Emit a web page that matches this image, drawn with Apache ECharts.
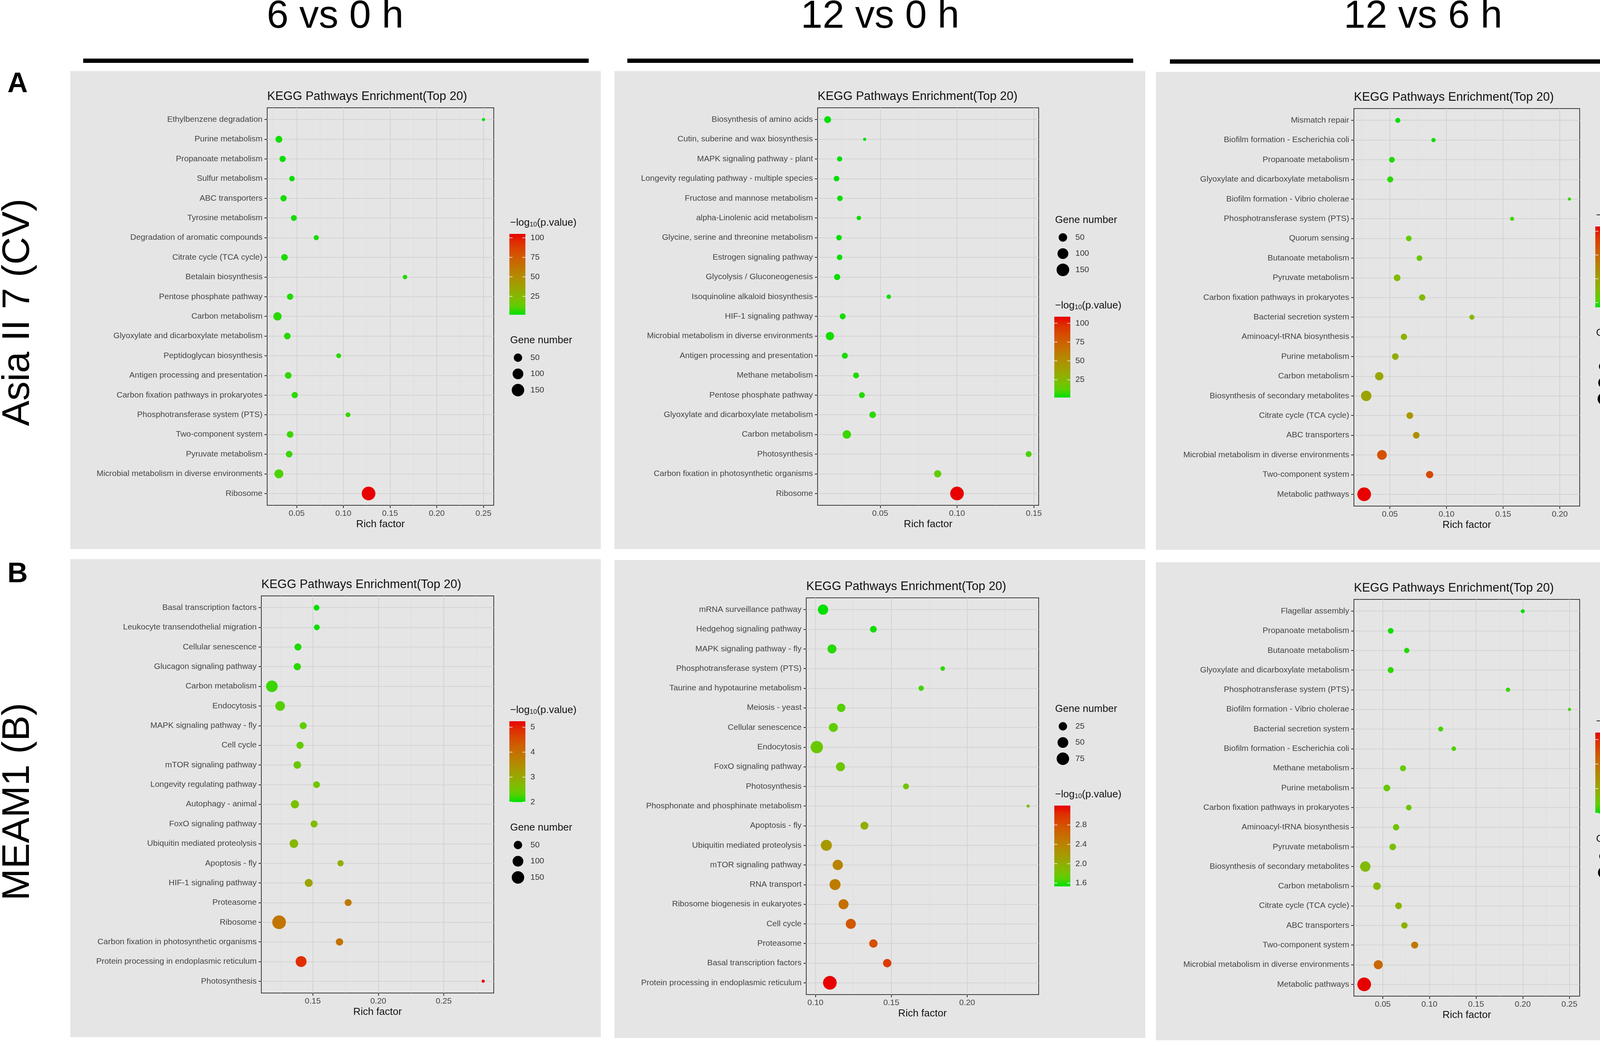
<!DOCTYPE html>
<html>
<head>
<meta charset="utf-8">
<script src="https://cdn.jsdelivr.net/npm/echarts@6/dist/echarts.min.js"></script>
<style>
html, body { margin: 0; padding: 0; background: #fff; }
#chart { width: 4328px; height: 2671px; }
</style>
</head>
<body>
<div id="chart"></div>
<script>
// ---- Asia II 7 (CV), 6 vs 0 h ----
const catsA1 = ['Ethylbenzene degradation', 'Purine metabolism', 'Propanoate metabolism', 'Sulfur metabolism',
  'ABC transporters', 'Tyrosine metabolism', 'Degradation of aromatic compounds', 'Citrate cycle (TCA cycle)',
  'Betalain biosynthesis', 'Pentose phosphate pathway', 'Carbon metabolism', 'Glyoxylate and dicarboxylate metabolism',
  'Peptidoglycan biosynthesis', 'Antigen processing and presentation', 'Carbon fixation pathways in prokaryotes',
  'Phosphotransferase system (PTS)', 'Two-component system', 'Pyruvate metabolism',
  'Microbial metabolism in diverse environments', 'Ribosome'];
const richA1 = [0.250, 0.031, 0.035, 0.045, 0.036, 0.047, 0.071, 0.037, 0.166, 0.043, 0.0295, 0.040, 0.095, 0.041, 0.048, 0.105, 0.043, 0.042, 0.031, 0.127];
const genesA1 = [4, 28, 21, 14, 21, 17, 11, 25, 7, 21, 49, 25, 9, 25, 21, 9, 25, 25, 61, 190];
const pvalA1 = [1.5, 3, 3, 3.2, 4, 4, 4.2, 5, 5, 5.2, 6, 6, 6.2, 7, 7, 7.2, 8, 8, 10, 105];
const xTicksA1 = [0.05, 0.10, 0.15, 0.20, 0.25];
const colorTicksA1 = ['25', '50', '75', '100'];
const sizeTicksA1 = [50, 100, 150];

// ---- Asia II 7 (CV), 12 vs 0 h ----
const catsA2 = ['Biosynthesis of amino acids', 'Cutin, suberine and wax biosynthesis', 'MAPK signaling pathway - plant',
  'Longevity regulating pathway - multiple species', 'Fructose and mannose metabolism', 'alpha-Linolenic acid metabolism',
  'Glycine, serine and threonine metabolism', 'Estrogen signaling pathway', 'Glycolysis / Gluconeogenesis',
  'Isoquinoline alkaloid biosynthesis', 'HIF-1 signaling pathway', 'Microbial metabolism in diverse environments',
  'Antigen processing and presentation', 'Methane metabolism', 'Pentose phosphate pathway',
  'Glyoxylate and dicarboxylate metabolism', 'Carbon metabolism', 'Photosynthesis',
  'Carbon fixation in photosynthetic organisms', 'Ribosome'];
const richA2 = [0.0158, 0.0399, 0.0236, 0.0216, 0.0238, 0.0361, 0.0232, 0.0236, 0.0220, 0.0556, 0.0256, 0.0173, 0.0270, 0.0343, 0.0381, 0.0451, 0.0283, 0.1466, 0.0874, 0.100];
const genesA2 = [28, 4, 11, 14, 14, 7, 14, 14, 20, 7, 17, 48, 17, 17, 17, 24, 50, 17, 32, 185];
const pvalA2 = [1.4, 1.6, 1.8, 2, 2.2, 2.4, 2.6, 2.8, 3, 3.3, 3.6, 4, 4.4, 5, 5.5, 6.5, 8, 10, 14, 108.7];
const xTicksA2 = [0.05, 0.10, 0.15];
const colorTicksA2 = ['25', '50', '75', '100'];
const sizeTicksA2 = [50, 100, 150];

// ---- Asia II 7 (CV), 12 vs 6 h ----
const catsA3 = ['Mismatch repair', 'Biofilm formation - Escherichia coli', 'Propanoate metabolism',
  'Glyoxylate and dicarboxylate metabolism', 'Biofilm formation - Vibrio cholerae', 'Phosphotransferase system (PTS)',
  'Quorum sensing', 'Butanoate metabolism', 'Pyruvate metabolism', 'Carbon fixation pathways in prokaryotes',
  'Bacterial secretion system', 'Aminoacyl-tRNA biosynthesis', 'Purine metabolism', 'Carbon metabolism',
  'Biosynthesis of secondary metabolites', 'Citrate cycle (TCA cycle)', 'ABC transporters',
  'Microbial metabolism in diverse environments', 'Two-component system', 'Metabolic pathways'];
const richA3 = [0.057, 0.0885, 0.0518, 0.0503, 0.2085, 0.1579, 0.0667, 0.0761, 0.0564, 0.0785, 0.1224, 0.0624, 0.0548, 0.0406, 0.0291, 0.0676, 0.0733, 0.043, 0.0851, 0.0273];
const genesA3 = [11, 6, 18, 22, 3, 5, 18, 18, 31, 26, 11, 26, 31, 63, 118, 31, 31, 97, 42, 245];
const pvalA3 = [3.2, 3.4, 3.6, 3.8, 4.0, 4.2, 4.8, 5.2, 6.0, 6.2, 6.3, 6.8, 7.0, 7.6, 7.8, 8.8, 9.3, 13.5, 14.0, 16.8];
const xTicksA3 = [0.05, 0.10, 0.15, 0.20];
const colorTicksA3 = ['4', '8', '12', '16'];
const sizeTicksA3 = [50, 100, 150, 200];

// ---- MEAM1 (B), 6 vs 0 h ----
const catsB1 = ['Basal transcription factors', 'Leukocyte transendothelial migration', 'Cellular senescence',
  'Glucagon signaling pathway', 'Carbon metabolism', 'Endocytosis', 'MAPK signaling pathway - fly', 'Cell cycle',
  'mTOR signaling pathway', 'Longevity regulating pathway', 'Autophagy - animal', 'FoxO signaling pathway',
  'Ubiquitin mediated proteolysis', 'Apoptosis - fly', 'HIF-1 signaling pathway', 'Proteasome', 'Ribosome',
  'Carbon fixation in photosynthetic organisms', 'Protein processing in endoplasmic reticulum', 'Photosynthesis'];
const richB1 = [0.1529, 0.1531, 0.1387, 0.1382, 0.1188, 0.1251, 0.1427, 0.1403, 0.1382, 0.1529, 0.1364, 0.1510, 0.1356, 0.1712, 0.1469, 0.1770, 0.1243, 0.1704, 0.1411, 0.2801];
const genesB1 = [16, 16, 30, 33, 125, 75, 30, 33, 38, 26, 48, 30, 55, 20, 44, 29, 190, 34, 105, 4];
const pvalB1 = [2.0, 2.05, 2.1, 2.15, 2.2, 2.3, 2.35, 2.4, 2.45, 2.5, 2.6, 2.65, 2.75, 2.9, 3.1, 3.85, 3.9, 3.95, 4.9, 5.24];
const xTicksB1 = [0.15, 0.20, 0.25];
const colorTicksB1 = ['2', '3', '4', '5'];
const sizeTicksB1 = [50, 100, 150];

// ---- MEAM1 (B), 12 vs 0 h ----
const catsB2 = ['mRNA surveillance pathway', 'Hedgehog signaling pathway', 'MAPK signaling pathway - fly',
  'Phosphotransferase system (PTS)', 'Taurine and hypotaurine metabolism', 'Meiosis - yeast', 'Cellular senescence',
  'Endocytosis', 'FoxO signaling pathway', 'Photosynthesis', 'Phosphonate and phosphinate metabolism',
  'Apoptosis - fly', 'Ubiquitin mediated proteolysis', 'mTOR signaling pathway', 'RNA transport',
  'Ribosome biogenesis in eukaryotes', 'Cell cycle', 'Proteasome', 'Basal transcription factors',
  'Protein processing in endoplasmic reticulum'];
const richB2 = [0.105, 0.1382, 0.1109, 0.1839, 0.1697, 0.117, 0.1118, 0.1009, 0.1165, 0.1597, 0.2402, 0.1323, 0.1072, 0.1147, 0.1129, 0.1185, 0.1233, 0.1382, 0.1473, 0.1095];
const genesB2 = [45, 13, 31, 4, 6, 25, 31, 73, 31, 9, 2, 22, 54, 45, 54, 42, 42, 25, 25, 95];
const pvalB2 = [1.53, 1.56, 1.6, 1.62, 1.65, 1.68, 1.72, 1.76, 1.78, 1.8, 1.85, 2.0, 2.2, 2.4, 2.45, 2.55, 2.75, 2.8, 2.95, 3.2];
const xTicksB2 = [0.10, 0.15, 0.20];
const colorTicksB2 = ['1.6', '2.0', '2.4', '2.8'];
const sizeTicksB2 = [25, 50, 75];

// ---- MEAM1 (B), 12 vs 6 h ----
const catsB3 = ['Flagellar assembly', 'Propanoate metabolism', 'Butanoate metabolism',
  'Glyoxylate and dicarboxylate metabolism', 'Phosphotransferase system (PTS)', 'Biofilm formation - Vibrio cholerae',
  'Bacterial secretion system', 'Biofilm formation - Escherichia coli', 'Methane metabolism', 'Purine metabolism',
  'Carbon fixation pathways in prokaryotes', 'Aminoacyl-tRNA biosynthesis', 'Pyruvate metabolism',
  'Biosynthesis of secondary metabolites', 'Carbon metabolism', 'Citrate cycle (TCA cycle)', 'ABC transporters',
  'Two-component system', 'Microbial metabolism in diverse environments', 'Metabolic pathways'];
const richB3 = [0.200, 0.0585, 0.0757, 0.0585, 0.1842, 0.250, 0.1121, 0.1261, 0.0717, 0.0544, 0.0779, 0.0643, 0.0607, 0.0313, 0.0438, 0.0669, 0.0732, 0.0842, 0.0452, 0.0301];
const genesB3 = [6, 21, 17, 26, 8, 4, 13, 10, 26, 37, 21, 32, 37, 140, 58, 37, 32, 43, 94, 290];
const pvalB3 = [3.95, 4.2, 4.4, 4.6, 4.8, 4.9, 5.0, 5.1, 5.5, 5.7, 5.9, 6.1, 6.3, 6.8, 7.0, 7.2, 7.4, 11.5, 12.5, 17.15];
const xTicksB3 = [0.05, 0.10, 0.15, 0.20, 0.25];
const colorTicksB3 = ['4', '8', '12', '16'];
const sizeTicksB3 = [100, 200];

const columnTitles = ['6 vs 0 h', '12 vs 0 h', '12 vs 6 h'];
const rowTitles = ['Asia II 7 (CV)', 'MEAM1 (B)'];
const rowLetters = ['A', 'B'];

const FONT = 'Liberation Sans';
const DMIN = 8, DMAX = 35;

// green -> red gradient interpolated in Lab, toned to the scanned look of the figure
function labColor(t) {
  const g = [87.737, -86.185, 83.181], r = [53.241, 80.092, 67.203];
  const L = g[0] + (r[0] - g[0]) * t, A = g[1] + (r[1] - g[1]) * t, B = g[2] + (r[2] - g[2]) * t;
  const fy = (L + 16) / 116, fx = fy + A / 500, fz = fy - B / 200;
  const inv = f => f * f * f > 0.008856 ? f * f * f : (f - 16 / 116) / 7.787;
  const X = 0.95047 * inv(fx), Y = inv(fy), Z = 1.08883 * inv(fz);
  const lin = [3.2406 * X - 1.5372 * Y - 0.4986 * Z, -0.9689 * X + 1.8758 * Y + 0.0415 * Z, 0.0557 * X - 0.2040 * Y + 1.0570 * Z];
  const srgb = lin.map(c => {
    c = Math.min(1, Math.max(0, c));
    return c <= 0.0031308 ? 12.92 * c : 1.055 * Math.pow(c, 1 / 2.4) - 0.055;
  });
  const out = [srgb[0] * 0.91, Math.pow(srgb[1], 1.3) * 0.88, srgb[2] * 0.9];
  return '#' + out.map(c => Math.round(c * 255).toString(16).padStart(2, '0')).join('');
}
const palette = [];
for (let k = 0; k <= 10; k++) palette.push(labColor(k / 10));

const panels = [
  { cats: catsA1, rich: richA1, genes: genesA1, pval: pvalA1, xTicks: xTicksA1, colorTicks: colorTicksA1, sizeTicks: sizeTicksA1,
    bg: [180, 182, 1358, 1224], grid: [684, 276, 580, 1018], legendTop: 569, colourFirst: true },
  { cats: catsA2, rich: richA2, genes: genesA2, pval: pvalA2, xTicks: xTicksA2, colorTicks: colorTicksA2, sizeTicks: sizeTicksA2,
    bg: [1573, 182, 1359, 1224], grid: [2093, 276, 566, 1018], legendTop: 564, colourFirst: false },
  { cats: catsA3, rich: richA3, genes: genesA3, pval: pvalA3, xTicks: xTicksA3, colorTicks: colorTicksA3, sizeTicks: sizeTicksA3,
    bg: [2959, 184, 1363, 1224], grid: [3466, 278, 578, 1018], legendTop: 550, colourFirst: true },
  { cats: catsB1, rich: richB1, genes: genesB1, pval: pvalB1, xTicks: xTicksB1, colorTicks: colorTicksB1, sizeTicks: sizeTicksB1,
    bg: [180, 1432, 1358, 1224], grid: [669, 1526, 595, 1017], legendTop: 1817, colourFirst: true },
  { cats: catsB2, rich: richB2, genes: genesB2, pval: pvalB2, xTicks: xTicksB2, colorTicks: colorTicksB2, sizeTicks: sizeTicksB2,
    bg: [1573, 1434, 1359, 1224], grid: [2064, 1531, 595, 1016], legendTop: 1816, colourFirst: false },
  { cats: catsB3, rich: richB3, genes: genesB3, pval: pvalB3, xTicks: xTicksB3, colorTicks: colorTicksB3, sizeTicks: sizeTicksB3,
    bg: [2959, 1440, 1363, 1224], grid: [3466, 1535, 578, 1016], legendTop: 1846, colourFirst: true }
];

const option = {
  animation: false,
  backgroundColor: '#fff',
  textStyle: { fontFamily: FONT },
  grid: [], xAxis: [], yAxis: [], series: [], visualMap: [],
  graphic: { elements: [] }
};
const G = option.graphic.elements;
const txt = (x, y, text, size, extra) => ({
  type: 'text', x, y, silent: true,
  style: Object.assign({ text, fontSize: size, fontFamily: FONT, fill: '#333', align: 'left', verticalAlign: 'middle' }, extra || {})
});

panels.forEach((p, i) => {
  const [gx, gy, gw, gh] = p.grid;
  const xmin = Math.min(...p.rich), xmax = Math.max(...p.rich), pad = (xmax - xmin) * 0.05;
  const lo = xmin - pad, hi = xmax + pad;
  const step = p.xTicks[1] - p.xTicks[0];
  const minor = [];
  for (let v = p.xTicks[0] - step / 2; v < hi; v += step) if (v > lo) minor.push(v);
  const nmin = Math.min(...p.genes), nmax = Math.max(...p.genes);
  const size = n => DMIN + (DMAX - DMIN) * Math.sqrt(Math.max(0, n - nmin) / (nmax - nmin));
  const cmin = Math.min(...p.pval), cmax = Math.max(...p.pval);
  const rows = p.cats.map((c, k) => k);

  G.push({ type: 'rect', z: -10, silent: true, shape: { x: p.bg[0], y: p.bg[1], width: p.bg[2], height: p.bg[3] }, style: { fill: '#e5e5e5' } });
  G.push(txt(gx, gy - 29, 'KEGG Pathways Enrichment(Top 20)', 31, { fill: '#111' }));

  option.grid.push({ left: gx, top: gy, width: gw, height: gh, show: true, borderColor: '#3a3a3a', borderWidth: 2, backgroundColor: 'transparent' });
  option.xAxis.push({
    type: 'value', gridIndex: i, min: lo, max: hi,
    axisLine: { show: false, onZero: false },
    axisTick: { show: true, length: 7, customValues: p.xTicks, lineStyle: { color: '#333', width: 2 } },
    axisLabel: { customValues: p.xTicks, formatter: v => v.toFixed(2), fontSize: 21, color: '#444', margin: 11, fontFamily: FONT },
    splitLine: { show: true, lineStyle: { color: '#d3d3d3', width: 2 } },
    name: 'Rich factor', nameLocation: 'middle', nameGap: 36,
    nameTextStyle: { fontSize: 26, color: '#111', fontFamily: FONT }
  });
  option.xAxis.push({
    type: 'value', gridIndex: i, min: lo, max: hi,
    axisLine: { show: false, onZero: false },
    axisTick: { show: false, customValues: minor },
    axisLabel: { show: false },
    splitLine: { show: true, lineStyle: { color: '#dcdcdc', width: 1 } }
  });
  option.yAxis.push({
    type: 'value', gridIndex: i, inverse: true, min: -0.6, max: p.cats.length - 0.4,
    axisLine: { show: false, onZero: false },
    axisTick: { show: true, length: 7, customValues: rows, lineStyle: { color: '#333', width: 2 } },
    axisLabel: { customValues: rows, formatter: v => p.cats[Math.round(v)], fontSize: 21, color: '#444', margin: 12, fontFamily: FONT },
    splitLine: { show: true, lineStyle: { color: '#d3d3d3', width: 2 } }
  });
  option.series.push({
    type: 'scatter', xAxisIndex: 2 * i, yAxisIndex: i,
    data: p.rich.map((x, k) => [x, k, p.genes[k], p.pval[k]]),
    symbolSize: v => size(v[2]),
    itemStyle: { opacity: 1 },
    emphasis: { disabled: true }
  });
  option.visualMap.push({
    type: 'continuous', show: false, seriesIndex: i, dimension: 3,
    min: cmin, max: cmax, inRange: { color: palette }
  });

  // legends
  const lx = gx + gw + 40;
  const drawColour = y => {
    G.push({
      type: 'text', x: lx + 2, y: y + 4, silent: true,
      style: {
        text: '{a|\u2212log}{s|10}{a|(p.value)}', verticalAlign: 'middle', align: 'left',
        rich: {
          a: { fontSize: 26, fontFamily: FONT, fill: '#111', lineHeight: 30, verticalAlign: 'top' },
          s: { fontSize: 17, fontFamily: FONT, fill: '#111', lineHeight: 30, verticalAlign: 'top', padding: [9, 0, 0, 0] }
        }
      }
    });
    const top = y + 30, h = 207, w = 41;
    G.push({
      type: 'rect', silent: true, shape: { x: lx, y: top, width: w, height: h },
      style: { fill: { type: 'linear', x: 0, y: 0, x2: 0, y2: 1, colorStops: palette.slice().reverse().map((c, k) => ({ offset: k / 10, color: c })) } }
    });
    p.colorTicks.forEach(s => {
      const yy = top + (cmax - parseFloat(s)) / (cmax - cmin) * h;
      G.push({ type: 'line', silent: true, shape: { x1: lx, y1: yy, x2: lx + 8, y2: yy }, style: { stroke: '#fff', lineWidth: 2, opacity: 0.7 } });
      G.push({ type: 'line', silent: true, shape: { x1: lx + w - 8, y1: yy, x2: lx + w, y2: yy }, style: { stroke: '#fff', lineWidth: 2, opacity: 0.7 } });
      G.push(txt(lx + w + 13, yy, s, 21));
    });
  };
  const drawSize = y => {
    G.push(txt(lx + 2, y, 'Gene number', 26, { fill: '#111' }));
    let cy = y;
    p.sizeTicks.forEach((n, k) => {
      cy = y + 44 + k * 41.5;
      G.push({ type: 'circle', silent: true, shape: { cx: lx + 22, cy, r: size(n) / 2 }, style: { fill: '#000' } });
      G.push(txt(lx + 54, cy, String(n), 21));
    });
    return cy;
  };
  if (p.colourFirst) {
    drawColour(p.legendTop);
    drawSize(p.legendTop + 303);
  } else {
    const last = drawSize(p.legendTop);
    drawColour(last + 90);
  }
});

// column headers and bars
const headerX = [858, 2253, 3643];
const bars = [[213, 150, 1294], [1606, 150, 1295], [2995, 152, 1297]];
columnTitles.forEach((t, k) => {
  G.push(txt(headerX[k], 43, t, 100, { fill: '#000', align: 'center' }));
  G.push({ type: 'rect', silent: true, shape: { x: bars[k][0], y: bars[k][1], width: bars[k][2], height: 11 }, style: { fill: '#000' } });
});
// row letters and row titles
const rowY = [800, 2053], letterY = [216, 1471];
rowTitles.forEach((t, k) => {
  G.push(txt(45, letterY[k], rowLetters[k], 72, { fill: '#000', align: 'center', fontWeight: 'bold' }));
  G.push(Object.assign(txt(47, rowY[k], t, 98, { fill: '#000', align: 'center' }), { rotation: Math.PI / 2 }));
});

const chart = echarts.init(document.getElementById('chart'), null, { renderer: 'canvas' });
chart.setOption(option);
</script>
</body>
</html>
